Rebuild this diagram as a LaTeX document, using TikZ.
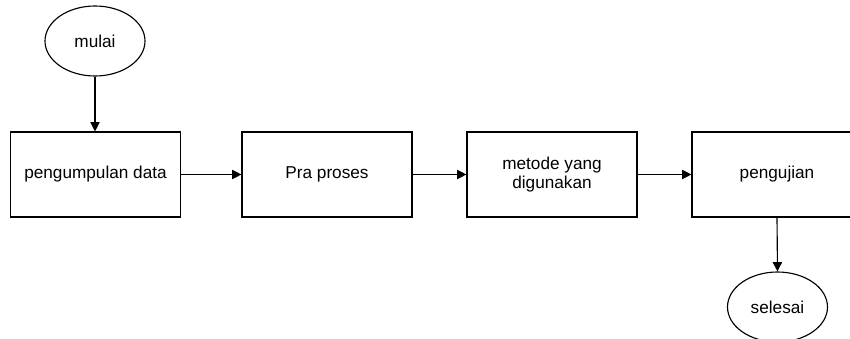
\documentclass[tikz,border=0pt]{standalone}
\usepackage{fontspec}
\setmainfont{Liberation Sans}
\usepackage{tikz}
\usetikzlibrary{arrows.meta, positioning, shapes.geometric}

\tikzset{
  procbox/.style={draw, line width=0.85pt, rectangle, minimum width=127.5pt, minimum height=63.75pt,
    inner sep=0pt, align=center, font=\fontsize{12.9}{14.5}\selectfont},
  termnode/.style={draw, line width=0.85pt, ellipse, minimum width=75pt, minimum height=52.5pt,
    inner sep=0pt, font=\fontsize{12.9}{14.5}\selectfont},
  flow/.style={-{Triangle[length=7pt, width=7pt]}, line width=0.85pt}
}

\begin{document}
\begin{tikzpicture}[x=0.75pt, y=-0.75pt]
        % frame of the reference, the last box and ellipse run off its edges
        \useasboundingbox (0,0) rectangle (850,339);
        \clip (0,0) rectangle (850,339);

        % === Start ===
        \node[termnode] (mulai) at (95,41) {mulai};

        % === Steps ===
        \node[procbox] (kumpul) at (95.5,174.5) {pengumpulan data};
        \node[procbox] (praproses) at (327,174.5) {Pra proses};
        \node[procbox] (metode) at (552,174.5) {metode yang\\digunakan};
        \node[procbox] (uji) at (777,174.5) {pengujian};

        % === End ===
        \node[termnode] (selesai) at (777.5,307) {selesai};

        % === Arrows ===
        \draw[flow] (mulai.south) -- (mulai.south |- kumpul.north);
        \draw[flow] (kumpul) -- (praproses);
        \draw[flow] (praproses) -- (metode);
        \draw[flow] (metode) -- (uji);
        \draw[flow] (uji.south) -- (selesai.north);
\end{tikzpicture}
\end{document}
